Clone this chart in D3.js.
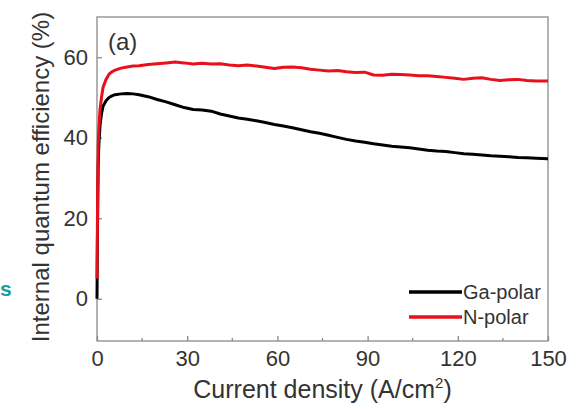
<!DOCTYPE html>
<html><head><meta charset="utf-8">
<script src="https://cdn.jsdelivr.net/npm/d3@7"></script>
<style>
body{margin:0;background:#fff;}
svg{display:block;font-family:Arial,"Liberation Sans",Helvetica,sans-serif;}
</style></head><body>
<svg id="c" width="588" height="409"></svg>
<script>
// Data
const current = [0,0.2,0.4,0.6,1,1.5,2,3,4,5,6,8,10,12,14,17,20,23,26,29,32,35,38,41,44,47,50,53,56,59,62,65,68,71,74,77,80,83,86,89,92,95,98,101,104,107,110,113,116,119,122,125,128,131,134,137,140,143,146,150];
const nPolar = [5,25,38,42,47,50,52.5,54.5,55.8,56.4,56.8,57.3,57.6,57.8,57.9,58.2,58.4,58.6,58.8,58.6,58.3,58.5,58.3,58.4,58.1,57.9,58.1,57.8,57.5,57.2,57.5,57.6,57.4,57.0,56.8,56.6,56.7,56.4,56.2,56.3,55.6,55.5,55.8,55.7,55.6,55.4,55.4,55.2,55.0,54.8,54.5,54.8,54.9,54.5,54.2,54.4,54.5,54.2,54.1,54.1];
const gaPolar = [0,20,33,38,43,46,47.8,49.2,50.0,50.4,50.7,50.9,51.0,50.9,50.7,50.2,49.5,48.9,48.2,47.5,47.0,46.9,46.6,45.9,45.4,44.9,44.6,44.2,43.8,43.3,42.9,42.5,42.0,41.5,41.1,40.6,40.1,39.6,39.2,38.9,38.5,38.2,37.9,37.7,37.5,37.2,36.9,36.7,36.6,36.3,36.0,35.9,35.7,35.5,35.4,35.3,35.1,35.0,34.9,34.8];
const seriesNames = ["Ga-polar","N-polar"];
const seriesColors = ["#000000","#e8101a"];
const xTicks = [0,30,60,90,120,150];
const xMinor = [15,45,75,105,135];
const yTicks = [0,20,40,60];

const svg = d3.select("#c");
const L=97, R=548, T=17, B=341;
const x = d3.scaleLinear().domain([0,150]).range([L,R]);
const y = d3.scaleLinear().domain([-10.5,70]).range([B,T]);
const axisCol = "#8a8a8a", textCol = "#333";

// frame
svg.append("rect").attr("x",L).attr("y",T).attr("width",R-L).attr("height",B-T)
  .attr("fill","none").attr("stroke",axisCol).attr("stroke-width",1.3);

// x axis
const gx = svg.append("g").attr("transform",`translate(0,${B})`)
  .call(d3.axisBottom(x).tickValues(xTicks).tickSizeInner(-5).tickSizeOuter(0).tickPadding(9));
gx.select(".domain").remove();
gx.selectAll(".tick line").attr("stroke",axisCol).attr("stroke-width",1.3);
gx.selectAll(".tick text").attr("fill",textCol).attr("font-size",22).attr("font-family","Arial,'Liberation Sans',sans-serif");
svg.append("g").selectAll("line").data(xMinor).join("line")
  .attr("x1",d=>x(d)).attr("x2",d=>x(d)).attr("y1",B).attr("y2",B-3)
  .attr("stroke",axisCol).attr("stroke-width",1.3);

// y axis
const gy = svg.append("g").attr("transform",`translate(${L},0)`)
  .call(d3.axisLeft(y).tickValues(yTicks).tickSizeInner(-5).tickSizeOuter(0).tickPadding(9));
gy.select(".domain").remove();
gy.selectAll(".tick line").attr("stroke",axisCol).attr("stroke-width",1.3);
gy.selectAll(".tick text").attr("fill",textCol).attr("font-size",22).attr("font-family","Arial,'Liberation Sans',sans-serif");

// lines
const line = d3.line().x((d,i)=>x(current[i])).y(d=>y(d));
const allSeries = [gaPolar,nPolar];
allSeries.forEach((s,k)=>{
  svg.append("path").datum(s).attr("d",line).attr("fill","none")
    .attr("stroke",seriesColors[k]).attr("stroke-width",3).attr("stroke-linejoin","round");
});

// legend
const legY = [292,317];
seriesNames.forEach((n,k)=>{
  svg.append("line").attr("x1",409).attr("x2",462).attr("y1",legY[k]).attr("y2",legY[k])
    .attr("stroke",seriesColors[k]).attr("stroke-width",3.5);
  svg.append("text").attr("x",463).attr("y",legY[k]+7).text(n)
    .attr("fill",textCol).attr("font-size",20);
});

// panel label
svg.append("text").attr("x",108).attr("y",50).text("(a)").attr("fill",textCol).attr("font-size",24);

// axis titles
svg.append("text").attr("x",(L+R)/2).attr("y",398).attr("text-anchor","middle")
  .attr("fill",textCol).attr("font-size",25)
  .html('Current density (A/cm<tspan dy="-10" font-size="15">2</tspan><tspan dy="10">)</tspan>');
svg.append("text").attr("transform","translate(49,177) rotate(-90)").attr("text-anchor","middle")
  .attr("fill",textCol).attr("font-size",24).text("Internal quantum efficiency (%)");

// stray teal letter at left edge
svg.append("text").attr("x",0).attr("y",296).text("s").attr("fill","#16a0a6")
  .attr("font-size",21).attr("font-weight","bold");
</script>
</body></html>
